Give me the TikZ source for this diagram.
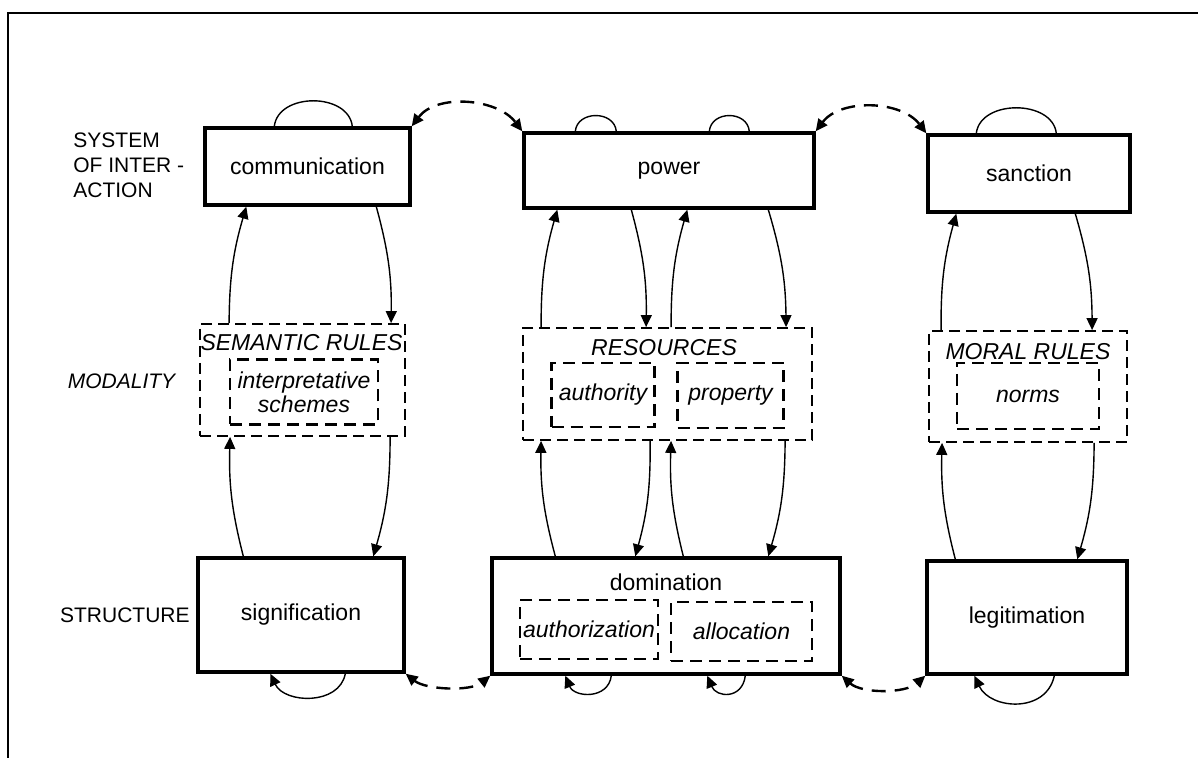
\documentclass[tikz,border=0pt]{standalone}
\usepackage{fontspec}
\setmainfont{Liberation Sans}
\usetikzlibrary{arrows.meta,calc}

\begin{document}
\begin{tikzpicture}[x=0.5pt,y=-0.5pt,
  box/.style={draw, line width=1.7pt, inner sep=0pt, font=\fontsize{11.5}{13.8}\selectfont},
  dbox/.style={draw, line width=0.9pt, dash pattern=on 5.5pt off 3pt, inner sep=0pt},
  ibox/.style={draw, line width=1.1pt, dash pattern=on 6pt off 3.5pt, inner sep=0pt, align=center, font=\fontsize{11.5}{12}\selectfont\itshape},
  txt/.style={inner sep=0pt, font=\fontsize{11.5}{13.8}\selectfont},
  itxt/.style={inner sep=0pt, font=\fontsize{11.5}{13.8}\selectfont\itshape},
  lbl/.style={inner sep=0pt, align=left, font=\fontsize{10.5}{12.5}\selectfont},
  tip/.style={-{Triangle[length=6pt,width=5.5pt]}},
  flow/.style={line width=0.7pt, tip},
  selfarc/.style={line width=0.7pt},
  dlink/.style={line width=1.2pt, dash pattern=on 7pt off 4.5pt, {Triangle[length=6pt,width=5.5pt]}-{Triangle[length=6pt,width=5.5pt]}},
]
\fill[white] (0,0) rectangle (1198,758);
\useasboundingbox (0,0) rectangle (1198,758);

% frame
\draw[line width=1.3pt] (8,758) -- (8,13) -- (1198,13);

% row labels
\node[lbl, anchor=west] (lsys) at (73,165) {SYSTEM\\OF INTER -\\ACTION};
\node[lbl, anchor=center, font=\fontsize{10.5}{12.5}\selectfont\itshape] (lmod) at (121.5,381) {MODALITY};
\node[lbl, anchor=east] (lstr) at (190,615) {STRUCTURE};

% top row
\node[box, minimum width=102.5pt, minimum height=38.5pt] (comm) at (307.5,166.5) {communication};
\node[box, minimum width=145pt, minimum height=37.5pt] (pow) at (669,170.5) {power};
\node[box, minimum width=101pt, minimum height=38.5pt] (sanc) at (1029,173.5) {sanction};

% middle row
\node[dbox, minimum width=102.5pt, minimum height=56pt] (sem) at (302.5,380) {};
\node[itxt] (semT) at (301.5,343) {SEMANTIC RULES};
\node[ibox, minimum width=74pt, minimum height=32.5pt] (interp) at (304,392) {interpretative\\schemes};

\node[dbox, minimum width=144.5pt, minimum height=56pt] (res) at (667.5,384) {};
\node[itxt] (resT) at (664,348) {RESOURCES};
\node[ibox, minimum width=51.5pt, minimum height=32pt] (auth) at (603,395) {authority};
\node[ibox, minimum width=53pt, minimum height=32.5pt] (prop) at (730.5,395.5) {property};

\node[dbox, minimum width=99pt, minimum height=55.5pt] (moral) at (1028,386.5) {};
\node[itxt] (moralT) at (1028,352) {MORAL RULES};
\node[ibox, minimum width=71pt, minimum height=33pt] (norms) at (1028,396) {norms};

% bottom row
\node[box, minimum width=103pt, minimum height=57pt] (sig) at (301,615) {signification};
\node[box, minimum width=174pt, minimum height=58pt] (dom) at (666,616) {};
\node[txt] (domT) at (666,582) {domination};
\node[ibox, minimum width=69pt, minimum height=29.5pt] (authz) at (589,629.5) {authorization};
\node[ibox, minimum width=70.5pt, minimum height=29.5pt] (alloc) at (741.5,631.5) {allocation};
\node[box, minimum width=100pt, minimum height=56.5pt] (legit) at (1027,617.5) {legitimation};

% column 1 flows
\draw[flow] ($(sem.north west)+(30,0)$) to[bend left=8] ($(comm.south west)+(43,0)$);
\draw[flow] ($(comm.south west)+(173,0)$) to[bend left=8] ($(sem.north west)+(192,0)$);
\draw[flow] ($(sig.north west)+(47,0)$) to[bend left=8] ($(sem.south west)+(31,0)$);
\draw[flow] ($(sem.south west)+(191,0)$) to[bend left=8] ($(sig.north west)+(177,0)$);

% column 2 flows
\draw[flow] ($(res.north west)+(19,0)$) to[bend left=8] ($(pow.south west)+(35,0)$);
\draw[flow] ($(pow.south west)+(109,0)$) to[bend left=8] ($(res.north west)+(124,0)$);
\draw[flow] ($(res.north west)+(149,0)$) to[bend left=8] ($(pow.south west)+(165,0)$);
\draw[flow] ($(pow.south west)+(246,0)$) to[bend left=8] ($(res.north west)+(264,0)$);
\draw[flow] ($(dom.north west)+(65,0)$) to[bend left=8] ($(res.south west)+(19,0)$);
\draw[flow] ($(res.south west)+(128,0)$) to[bend left=8] ($(dom.north west)+(145,0)$);
\draw[flow] ($(dom.north west)+(193,0)$) to[bend left=8] ($(res.south west)+(149,0)$);
\draw[flow] ($(res.south west)+(263,0)$) to[bend left=8] ($(dom.north west)+(278,0)$);

% column 3 flows
\draw[flow] ($(moral.north west)+(13,0)$) to[bend left=8] ($(sanc.south west)+(30,0)$);
\draw[flow] ($(sanc.south west)+(149,0)$) to[bend left=8] ($(moral.north west)+(164,0)$);
\draw[flow] ($(legit.north west)+(30,0)$) to[bend left=8] ($(moral.south west)+(14,0)$);
\draw[flow] ($(moral.south west)+(166,0)$) to[bend left=8] ($(legit.north west)+(152,0)$);

% top self arcs
\draw[selfarc] ($(comm.north west)+(71,0)$) .. controls +(4,-34) and +(-4,-34) .. ($(comm.north west)+(149,0)$);
\draw[selfarc] ($(pow.north west)+(53,0)$) .. controls +(2,-21) and +(-2,-21) .. ($(pow.north west)+(94,0)$);
\draw[selfarc] ($(pow.north west)+(187,0)$) .. controls +(2,-21) and +(-2,-21) .. ($(pow.north west)+(227,0)$);
\draw[selfarc] ($(sanc.north west)+(50,0)$) .. controls +(4,-34) and +(-4,-34) .. ($(sanc.north west)+(130,0)$);

% bottom self arcs with arrows
\draw[selfarc, tip] ($(sig.south west)+(149,0)$) .. controls +(-6,32) and +(14,30) .. ($(sig.south west)+(74,0)$);
\draw[selfarc, tip] ($(dom.south west)+(121,0)$) .. controls +(-3,24) and +(9,22) .. ($(dom.south west)+(75,0)$);
\draw[selfarc, tip] ($(dom.south west)+(255,0)$) .. controls +(-3,24) and +(9,22) .. ($(dom.south west)+(217,0)$);
\draw[selfarc, tip] ($(legit.south west)+(129,0)$) .. controls +(-8,38) and +(16,34) .. ($(legit.south west)+(49,0)$);

% dashed links
\draw[dlink] (comm.north east) .. controls +(25,-33) and +(-25,-33) .. (pow.north west);
\draw[dlink] (pow.north east) .. controls +(25,-33) and +(-25,-33) .. (sanc.north west);
\draw[dlink] (sig.south east) .. controls +(20,16) and +(-20,16) .. (dom.south west);
\draw[dlink] (dom.south east) .. controls +(20,18) and +(-20,18) .. (legit.south west);
\end{tikzpicture}
\end{document}
